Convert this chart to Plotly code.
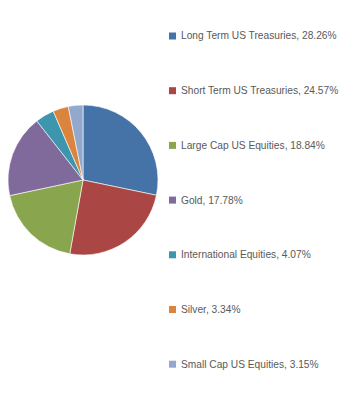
import plotly.graph_objects as go

labels = ["Long Term US Treasuries", "Short Term US Treasuries", "Large Cap US Equities",
          "Gold", "International Equities", "Silver", "Small Cap US Equities"]
values = [28.26, 24.57, 18.84, 17.78, 4.07, 3.34, 3.15]
colors = ["#4572A7", "#AA4643", "#89A54E", "#80699B", "#3D96AE", "#DB843D", "#92A8CD"]

OFF = 8  # page body margin
W, H = 357 - OFF, 400 - OFF
cx, cy, r = 83 - OFF, 180 - OFF, 75

fig = go.Figure()
fig.add_trace(go.Pie(
    labels=labels, values=values, sort=False, direction="clockwise", rotation=0,
    marker=dict(colors=colors, line=dict(color="rgba(255,255,255,0.6)", width=1)),
    textinfo="none", hoverinfo="label+percent", showlegend=False,
    domain=dict(x=[max(0, cx - r) / W, (cx + r) / W], y=[(H - cy - r) / H, (H - cy + r) / H]),
))

# custom legend built from data
y0, dy = 36 - OFF, 54.7
sx0, sx1, tx = 169 - OFF, 176 - OFF, 179 - OFF
shapes, annotations = [], []
for i, (lab, val, col) in enumerate(zip(labels, values, colors)):
    yc = y0 + i * dy
    shapes.append(dict(type="rect", xref="paper", yref="paper",
                       x0=sx0 / W, x1=sx1 / W, y0=(H - yc - 3.5) / H, y1=(H - yc + 3.5) / H,
                       fillcolor=col, line=dict(width=0)))
    annotations.append(dict(xref="paper", yref="paper", x=tx / W, y=(H - yc) / H,
                            xanchor="left", yanchor="middle", showarrow=False,
                            text=f"{lab}, {val:.2f}%",
                            font=dict(family="Liberation Sans, Arial", size=10.2, color="#595959")))

fig.update_layout(width=W, height=H, margin=dict(l=0, r=0, t=0, b=0),
                  paper_bgcolor="white", plot_bgcolor="white",
                  shapes=shapes, annotations=annotations)
fig.write_html("out.html")
